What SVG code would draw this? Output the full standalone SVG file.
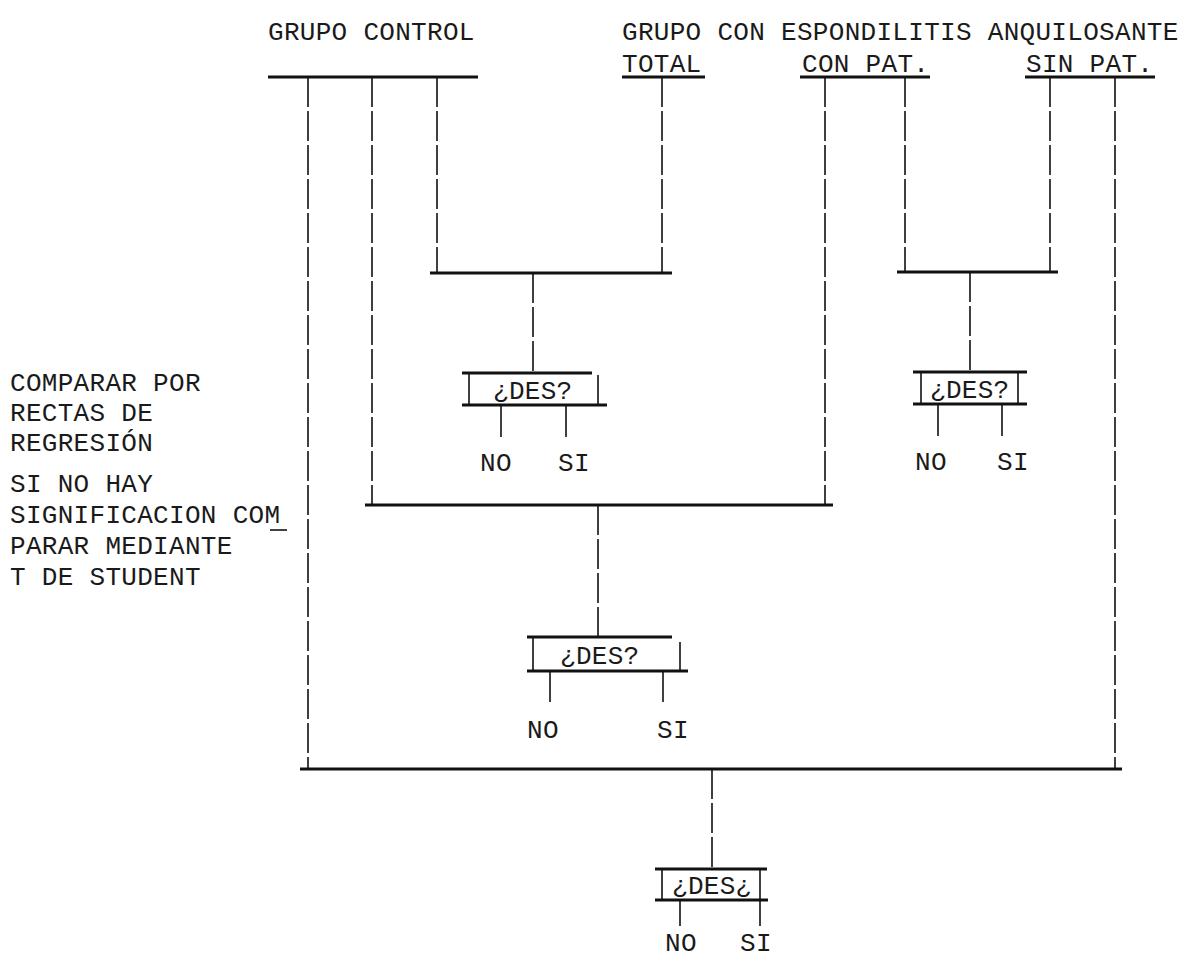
<svg xmlns="http://www.w3.org/2000/svg" width="1191" height="961" viewBox="0 0 1191 961">
<style>
text{font-family:"Liberation Mono","DejaVu Sans Mono",monospace;font-size:26px;fill:#1a1a1a;letter-spacing:0.3px}
.bar{stroke:#111;stroke-width:3;fill:none}
.dash{stroke:#111;stroke-width:1.6;stroke-dasharray:30 4;fill:none}
.thin{stroke:#111;stroke-width:1.6;fill:none}
</style>
<rect width="1191" height="961" fill="#fff"/>
<g id="titles">
<text x="268" y="40">GRUPO CONTROL</text>
<text x="622" y="40">GRUPO CON ESPONDILITIS ANQUILOSANTE</text>
<text x="622" y="72">TOTAL</text>
<text x="802" y="72">CON PAT.</text>
<text x="1026" y="72">SIN PAT.</text>
</g>
<g id="note">
<text x="10" y="391">COMPARAR POR</text>
<text x="10" y="421">RECTAS DE</text>
<text x="10" y="451">REGRESIÓN</text>
<text x="10" y="492">SI NO HAY</text>
<text x="10" y="523">SIGNIFICACION COM</text>
<line class="thin" x1="270" y1="530" x2="287" y2="530" stroke-width="2"/>
<text x="10" y="554">PARAR MEDIANTE</text>
<text x="10" y="585">T DE STUDENT</text>
</g>
<g id="connectors">
<line class="bar" x1="268" y1="77" x2="478" y2="77"/>
<line class="bar" x1="622" y1="77" x2="705" y2="77"/>
<line class="bar" x1="800" y1="77" x2="930" y2="77"/>
<line class="bar" x1="1025" y1="77" x2="1155" y2="77"/>
<line class="bar" x1="430" y1="273" x2="672" y2="273"/>
<line class="bar" x1="897" y1="272" x2="1058" y2="272"/>
<line class="bar" x1="365" y1="505" x2="833" y2="505"/>
<line class="bar" x1="300" y1="769" x2="1122" y2="769"/>
<line class="dash" x1="308" y1="77" x2="308" y2="769"/>
<line class="dash" x1="372" y1="77" x2="372" y2="505"/>
<line class="dash" x1="437" y1="77" x2="437" y2="273"/>
<line class="dash" x1="662" y1="77" x2="662" y2="273"/>
<line class="dash" x1="825" y1="77" x2="825" y2="505"/>
<line class="dash" x1="905" y1="77" x2="905" y2="272"/>
<line class="dash" x1="1050" y1="77" x2="1050" y2="272"/>
<line class="dash" x1="1115" y1="77" x2="1115" y2="769"/>
<line class="dash" x1="533" y1="273" x2="533" y2="373"/>
<line class="dash" x1="970" y1="272" x2="970" y2="372"/>
<line class="dash" x1="598" y1="505" x2="598" y2="637"/>
<line class="dash" x1="712" y1="769" x2="712" y2="869"/>
</g>
<g id="decision1">
<line class="bar" x1="462" y1="373" x2="592" y2="373"/>
<line class="bar" x1="462" y1="405" x2="607" y2="405"/>
<line class="thin" x1="469" y1="373" x2="469" y2="405"/>
<line class="thin" x1="598" y1="375" x2="598" y2="405"/>
<text x="493" y="399">¿DES?</text>
<line class="thin" x1="501" y1="405" x2="501" y2="437"/>
<line class="thin" x1="566" y1="405" x2="566" y2="437"/>
<text x="480" y="471">NO</text>
<text x="558" y="471">SI</text>
</g>
<g id="decision2">
<line class="bar" x1="913" y1="372" x2="1027" y2="372"/>
<line class="bar" x1="913" y1="404" x2="1027" y2="404"/>
<line class="thin" x1="921" y1="372" x2="921" y2="404"/>
<line class="thin" x1="1018" y1="372" x2="1018" y2="404"/>
<text x="930" y="398">¿DES?</text>
<line class="thin" x1="938" y1="404" x2="938" y2="436"/>
<line class="thin" x1="1002" y1="404" x2="1002" y2="436"/>
<text x="915" y="470">NO</text>
<text x="997" y="470">SI</text>
</g>
<g id="decision3">
<line class="bar" x1="527" y1="637" x2="672" y2="637"/>
<line class="bar" x1="527" y1="671" x2="688" y2="671"/>
<line class="thin" x1="533" y1="637" x2="533" y2="671"/>
<line class="thin" x1="680" y1="642" x2="680" y2="671"/>
<text x="560" y="664">¿DES?</text>
<line class="thin" x1="550" y1="671" x2="550" y2="702"/>
<line class="thin" x1="663" y1="671" x2="663" y2="702"/>
<text x="527" y="738">NO</text>
<text x="657" y="738">SI</text>
</g>
<g id="decision4">
<line class="bar" x1="655" y1="869" x2="767" y2="869"/>
<line class="bar" x1="655" y1="900" x2="768" y2="900"/>
<line class="thin" x1="662" y1="869" x2="662" y2="900"/>
<line class="thin" x1="760" y1="869" x2="760" y2="900"/>
<text x="672" y="894">¿DES¿</text>
<line class="thin" x1="680" y1="900" x2="680" y2="926"/>
<line class="thin" x1="760" y1="900" x2="760" y2="926"/>
<text x="665" y="951">NO</text>
<text x="740" y="951">SI</text>
</g>
</svg>
